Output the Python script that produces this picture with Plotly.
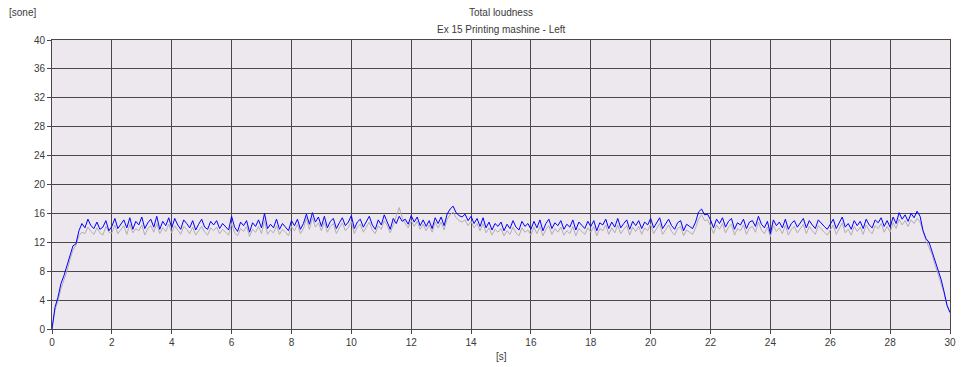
import plotly.graph_objects as go

# time axis: 0.0 .. 30.0 s, step 0.1 s
time_s = [round(i * 0.1, 1) for i in range(301)]

blue_left = [
    0.0, 3.0, 4.4, 6.3, 7.4, 8.8, 10.4, 11.5, 11.8, 13.6,
    14.6, 14.0, 15.2, 14.3, 13.9, 14.8, 13.8, 14.1, 15.0, 13.6,
    14.2, 15.3, 13.9, 14.6, 15.1, 14.0, 15.4, 13.8, 14.9, 14.4,
    15.5, 13.9, 14.7, 15.2, 14.1, 15.6, 13.8, 14.9, 14.3, 15.4,
    14.0, 15.3, 14.4, 13.8, 15.1, 14.6, 14.0, 15.0, 13.7, 14.5,
    15.2, 14.1, 13.8, 14.9, 14.4, 15.0, 13.9, 14.6, 14.2, 13.7,
    15.6, 14.1, 13.5, 14.8, 14.3, 15.0, 13.4, 14.7, 14.2, 15.1,
    14.0, 16.0, 13.9, 14.5, 14.0, 15.2, 13.8, 14.6, 14.1, 13.6,
    15.0, 14.3, 15.2, 13.8, 14.6, 15.9, 14.5, 16.1, 14.8, 15.5,
    14.2, 15.6, 14.0, 14.9, 15.3, 13.9, 14.7, 15.4, 14.3, 14.8,
    15.7, 13.9, 14.8, 15.2, 14.1, 14.9, 15.6, 14.4, 13.8, 15.1,
    14.4, 15.8, 14.9, 13.8, 15.3, 14.6, 15.6, 14.9, 15.2, 14.5,
    15.7, 14.8, 15.5, 14.3, 15.1, 14.2, 15.0, 13.9, 15.4, 14.6,
    15.5, 14.3, 15.9, 16.6, 17.0, 16.1, 15.7, 15.5, 15.9, 15.0,
    15.6, 14.6, 15.3, 14.2, 15.4, 14.0, 14.8, 13.7, 14.6, 14.2,
    14.8, 13.6, 14.5, 13.9, 15.0, 14.1, 13.7, 14.9, 14.2, 14.6,
    13.8, 14.9, 14.0, 15.1, 13.6, 14.6, 15.2, 13.9, 14.7, 14.3,
    15.0, 13.8, 14.5, 14.1, 15.1, 13.7, 14.8, 14.4, 13.9, 14.9,
    14.2, 15.0, 13.6, 14.7, 14.4, 15.2, 13.9, 14.8, 14.1, 15.3,
    14.0, 14.6, 15.1, 13.8, 14.9, 14.3, 15.0, 13.9, 14.8, 14.4,
    15.3, 14.0, 14.8, 15.4, 13.9, 14.6, 15.2, 14.3, 13.8, 14.7,
    15.0, 13.6, 14.5, 14.2, 13.9, 14.8, 16.2, 16.6, 15.8, 15.9,
    15.1, 14.0, 15.2, 14.6, 15.4, 14.1, 14.9, 15.3, 13.8, 14.7,
    14.4, 15.2, 13.9, 14.8, 15.0, 14.2, 15.6, 14.5, 14.0, 14.9,
    13.2, 15.1, 14.3, 14.8, 14.0, 15.2, 13.8, 14.6, 15.0, 14.1,
    14.7, 15.3, 14.0, 15.0, 14.4, 13.9, 15.1, 14.6, 14.2, 13.8,
    14.5, 15.2, 13.9, 14.8, 15.5, 14.1, 14.6, 13.8, 15.0, 14.3,
    14.9, 13.9, 15.2, 14.4, 14.0, 15.1, 14.7, 15.4, 14.2, 15.0,
    14.1, 15.5, 14.6, 16.1, 15.2, 15.8, 14.9, 16.0, 15.4, 16.3,
    15.6, 13.6, 12.5, 12.0, 10.8, 9.3, 8.2, 6.9, 5.2, 3.3,
    2.3,
]

gray_ref = [
    0.0, 2.6, 3.9, 5.6, 6.8, 8.0, 9.6, 10.9, 11.6, 12.9,
    13.4, 13.2, 14.1, 13.5, 13.1, 14.0, 13.3, 13.0, 14.2, 13.4,
    13.3, 14.4, 13.2, 13.8, 14.3, 13.1, 14.5, 13.3, 13.9, 13.6,
    14.4, 13.0, 13.9, 14.3, 13.4, 14.6, 13.2, 14.0, 13.5, 14.5,
    13.3, 14.3, 13.6, 13.1, 14.2, 13.8, 13.2, 14.1, 13.0, 13.7,
    14.2, 13.4, 13.0, 14.0, 13.6, 14.1, 13.2, 13.8, 13.4, 13.0,
    14.6, 13.3, 12.9, 13.9, 13.5, 14.2, 12.8, 13.8, 13.4, 14.2,
    13.2, 15.0, 13.1, 13.7, 13.3, 14.3, 13.1, 13.8, 13.4, 12.9,
    14.2, 13.6, 14.5, 13.2, 13.9, 15.3, 13.8, 15.4, 14.1, 14.7,
    13.6, 14.8, 13.4, 14.2, 14.6, 13.2, 14.0, 14.7, 13.6, 14.1,
    14.9, 13.2, 14.1, 14.5, 13.4, 14.2, 14.8, 13.7, 13.2, 14.3,
    13.8, 15.0, 14.3, 13.3, 14.6, 15.6, 16.8, 15.4, 14.6, 14.0,
    15.0, 14.2, 14.9, 13.8, 14.5, 13.6, 14.4, 13.4, 14.8, 14.0,
    14.8, 13.7, 15.2, 15.8, 16.2, 15.4, 15.0, 14.8, 15.1, 14.3,
    14.9, 14.0, 14.6, 13.6, 14.6, 13.3, 14.0, 13.0, 13.8, 13.4,
    13.9, 12.9, 13.6, 13.1, 14.1, 13.3, 12.9, 14.0, 13.4, 13.7,
    13.0, 14.1, 13.2, 14.2, 12.9, 13.8, 14.3, 13.1, 13.9, 13.4,
    14.1, 13.0, 13.6, 13.2, 14.2, 12.9, 13.9, 13.5, 13.1, 14.0,
    13.4, 14.2, 12.9, 13.9, 13.6, 14.4, 13.1, 14.0, 13.3, 14.4,
    13.2, 13.8, 14.3, 13.0, 14.1, 13.5, 14.2, 13.1, 14.0, 13.6,
    14.5, 13.2, 14.0, 14.6, 13.1, 13.8, 14.4, 13.5, 13.0, 13.9,
    14.2, 12.9, 13.7, 13.4, 13.1, 14.0, 15.2, 15.8, 15.0, 15.1,
    14.3, 13.2, 14.4, 13.8, 14.6, 13.3, 14.1, 14.5, 13.0, 13.9,
    13.6, 14.4, 13.1, 14.0, 14.2, 13.4, 14.8, 13.7, 13.2, 14.1,
    12.8, 14.3, 13.5, 14.0, 13.2, 14.4, 13.0, 13.8, 14.2, 13.3,
    13.9, 14.5, 13.2, 14.2, 13.6, 13.1, 14.3, 13.8, 13.4, 13.0,
    13.7, 14.4, 13.1, 14.0, 14.7, 13.3, 13.8, 13.0, 14.2, 13.5,
    14.1, 13.1, 14.4, 13.6, 13.2, 14.3, 13.9, 14.6, 13.4, 14.2,
    13.4, 14.7, 13.9, 15.2, 14.4, 15.0, 14.2, 15.1, 14.6, 15.3,
    14.8, 13.5, 12.2, 11.3, 10.3, 8.9, 7.7, 6.4, 5.0, 3.2,
    2.2,
]

x_ticks = list(range(0, 31, 2))
y_ticks = list(range(0, 41, 4))

title_text = "Total loudness"
subtitle_text = "Ex 15 Printing mashine - Left"
y_unit = "[sone]"
x_unit = "[s]"

FONT = "Liberation Sans, Arial, sans-serif"
TXT = "#3a3a3a"
GRID = "#4A464A"

fig = go.Figure()
fig.add_trace(go.Scatter(x=time_s, y=gray_ref, mode="lines",
                         line=dict(color="#B2AEB2", width=1), showlegend=False,
                         hoverinfo="skip"))
fig.add_trace(go.Scatter(x=time_s, y=blue_left, mode="lines",
                         line=dict(color="#0000FF", width=1), showlegend=False))

W, H = 965, 367
L, R, T, B = 52, 9, 40, 38
ph = H - T - B
pw = W - L - R

def py(p):
    return (H - B - p) / ph

def px(p):
    return (p - L) / pw

fig.update_layout(
    width=W, height=H,
    margin=dict(l=L, r=R, t=T, b=B, pad=0),
    paper_bgcolor="white",
    plot_bgcolor="#EDE7EE",
    font=dict(family=FONT, size=10, color=TXT),
    xaxis=dict(range=[0, 30], tickvals=x_ticks, ticktext=[str(v) for v in x_ticks],
               showgrid=True, gridcolor=GRID, gridwidth=1,
               showline=True, linecolor=GRID, linewidth=1, mirror=True,
               ticks="outside", ticklen=4, tickcolor=GRID,
               zeroline=False, tickfont=dict(size=10, color=TXT)),
    yaxis=dict(range=[0, 40], tickvals=y_ticks, ticktext=[str(v) for v in y_ticks],
               showgrid=True, gridcolor=GRID, gridwidth=1,
               showline=True, linecolor=GRID, linewidth=1, mirror=True,
               ticks="outside", ticklen=4, tickcolor=GRID,
               zeroline=False, tickfont=dict(size=10, color=TXT)),
    annotations=[
        dict(text=title_text, xref="paper", yref="paper", x=0.5, y=py(12),
             xanchor="center", yanchor="middle", showarrow=False,
             font=dict(size=10, color=TXT)),
        dict(text=subtitle_text, xref="paper", yref="paper", x=0.5, y=py(29),
             xanchor="center", yanchor="middle", showarrow=False,
             font=dict(size=10, color=TXT)),
        dict(text=y_unit, xref="paper", yref="paper", x=px(7), y=py(12),
             xanchor="left", yanchor="middle", showarrow=False,
             font=dict(size=10, color=TXT)),
        dict(text=x_unit, xref="paper", yref="paper", x=px(504), y=py(356),
             xanchor="center", yanchor="middle", showarrow=False,
             font=dict(size=10, color=TXT)),
    ],
)

fig.write_html("out.html", config={"displayModeBar": False},
               post_script="document.body.style.margin='0';document.body.style.padding='0';")
